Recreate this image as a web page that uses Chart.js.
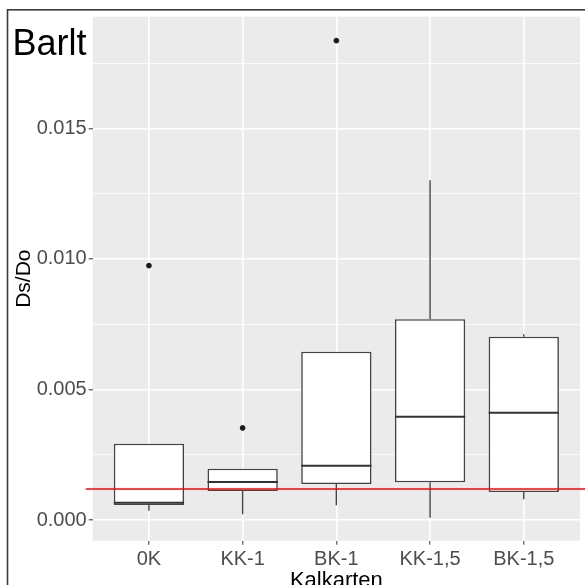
<!DOCTYPE html>
<html>
<head>
<meta charset="utf-8">
<script src="https://cdn.jsdelivr.net/npm/chart.js@4/dist/chart.umd.min.js"></script>
<style>
  html, body { margin: 0; padding: 0; background: #fff; }
  canvas { display: block; }
</style>
</head>
<body>
<canvas id="chart" width="585" height="585"></canvas>
<script>
// Data
const categories = ['0K', 'KK-1', 'BK-1', 'KK-1,5', 'BK-1,5'];
const q1 = [0.000574, 0.001111, 0.001379, 0.001444, 0.001072];
const medians = [0.000663, 0.001455, 0.00208, 0.003956, 0.00411];
const q3 = [0.002922, 0.001965, 0.006446, 0.007687, 0.00702];
const whiskerLow = [0.000356, 0.000218, 0.000563, 0.000088, 0.000793];
const whiskerHigh = [0.002922, 0.001965, 0.006446, 0.01301, 0.007112];
const outliers = [[0.00974], [0.003524], [0.018357], [], []];
const refLine = 0.001187;
const yTicks = [0, 0.0025, 0.005, 0.0075, 0.01, 0.0125, 0.015, 0.0175];

const FONT = "'Liberation Sans', Arial, sans-serif";
const isMajor = v => Math.round(v * 10000) % 50 === 0;

const outlierPoints = [];
outliers.forEach((list, i) => list.forEach(v => outlierPoints.push({ x: i, y: v })));

// Panel background, frame and plot title
const decorPlugin = {
  id: 'decor',
  beforeDraw(chart) {
    const { ctx, chartArea: a } = chart;
    ctx.save();
    ctx.fillStyle = '#EBEBEB';
    ctx.fillRect(a.left, a.top, a.right - a.left, a.bottom - a.top);
    ctx.restore();
  },
  afterDraw(chart) {
    const { ctx } = chart;
    ctx.save();
    ctx.strokeStyle = '#3a3a3a';
    ctx.lineWidth = 1.6;
    ctx.strokeRect(7.5, 9.8, 700, 700);
    ctx.fillStyle = '#000';
    ctx.font = '36px ' + FONT;
    ctx.textBaseline = 'alphabetic';
    ctx.fillText('Barlt', 12.5, 55);
    ctx.restore();
  }
};

// Whiskers, medians and the red reference line
const boxPlugin = {
  id: 'boxParts',
  beforeDatasetsDraw(chart) {
    const { ctx } = chart;
    const x = chart.scales.x, y = chart.scales.y;
    ctx.save();
    ctx.strokeStyle = '#444444';
    ctx.lineWidth = 1.4;
    categories.forEach((c, i) => {
      const px = x.getPixelForValue(i);
      ctx.beginPath();
      ctx.moveTo(px, y.getPixelForValue(q3[i]));
      ctx.lineTo(px, y.getPixelForValue(whiskerHigh[i]));
      ctx.moveTo(px, y.getPixelForValue(q1[i]));
      ctx.lineTo(px, y.getPixelForValue(whiskerLow[i]));
      ctx.stroke();
    });
    ctx.restore();
  },
  afterDatasetsDraw(chart) {
    const { ctx, chartArea: a } = chart;
    const y = chart.scales.y;
    const bars = chart.getDatasetMeta(0).data;
    ctx.save();
    ctx.strokeStyle = '#333333';
    ctx.lineWidth = 2;
    bars.forEach((bar, i) => {
      const py = y.getPixelForValue(medians[i]);
      ctx.beginPath();
      ctx.moveTo(bar.x - bar.width / 2, py);
      ctx.lineTo(bar.x + bar.width / 2, py);
      ctx.stroke();
    });
    const ry = y.getPixelForValue(refLine);
    ctx.strokeStyle = '#FF0000';
    ctx.lineWidth = 1.3;
    ctx.beginPath();
    ctx.moveTo(a.left - 7, ry);
    ctx.lineTo(chart.width, ry);
    ctx.stroke();
    ctx.restore();
  }
};

new Chart(document.getElementById('chart'), {
  type: 'bar',
  data: {
    datasets: [
      {
        data: categories.map((c, i) => ({ x: i, y: [q1[i], q3[i]] })),
        backgroundColor: '#FFFFFF',
        borderColor: '#444444',
        borderWidth: 1.6,
        borderSkipped: false,
        barPercentage: 0.75,
        categoryPercentage: 1,
        order: 2
      },
      {
        type: 'scatter',
        data: outlierPoints,
        backgroundColor: '#1a1a1a',
        borderColor: '#1a1a1a',
        pointRadius: 2.4,
        order: 1
      }
    ]
  },
  options: {
    responsive: false,
    devicePixelRatio: 1,
    animation: false,
    events: [],
    layout: { padding: { top: 16.7, right: 3.3, left: 0, bottom: 0 } },
    plugins: { legend: { display: false }, tooltip: { enabled: false } },
    scales: {
      x: {
        type: 'linear',
        min: -0.6,
        max: 4.6,
        offset: false,
        afterBuildTicks: s => { s.ticks = categories.map((c, i) => ({ value: i })); },
        afterFit: s => { s.height = 44.3; },
        border: { display: false },
        grid: { offset: false, color: '#FFFFFF', lineWidth: 1.6, tickColor: '#333333', tickLength: 4, tickWidth: 1 },
        ticks: {
          autoSkip: false,
          maxRotation: 0,
          padding: 3,
          color: '#4D4D4D',
          font: { family: FONT, size: 20 },
          callback: v => categories[v]
        },
        title: {
          display: true,
          text: 'Kalkarten',
          color: '#000',
          font: { family: FONT, size: 22 },
          padding: { top: 0, bottom: -9 }
        }
      },
      y: {
        type: 'linear',
        min: -0.000793,
        max: 0.019274,
        afterBuildTicks: s => { s.ticks = yTicks.map(v => ({ value: v })); },
        afterFit: s => { s.width = 92.7; },
        border: { display: false },
        grid: {
          color: '#FFFFFF',
          lineWidth: c => (c.tick && isMajor(c.tick.value) ? 1.6 : 0.8),
          tickColor: c => (c.tick && isMajor(c.tick.value) ? '#333333' : 'rgba(0,0,0,0)'),
          tickLength: 4,
          tickWidth: 1
        },
        ticks: {
          autoSkip: false,
          padding: 2,
          color: '#4D4D4D',
          font: { family: FONT, size: 20 },
          callback: v => (isMajor(v) ? v.toFixed(3) : '')
        },
        title: {
          display: true,
          text: 'Ds/Do',
          color: '#000',
          font: { family: FONT, size: 21 },
          padding: { top: 12, bottom: 0 }
        }
      }
    }
  },
  plugins: [decorPlugin, boxPlugin]
});
</script>
</body>
</html>
